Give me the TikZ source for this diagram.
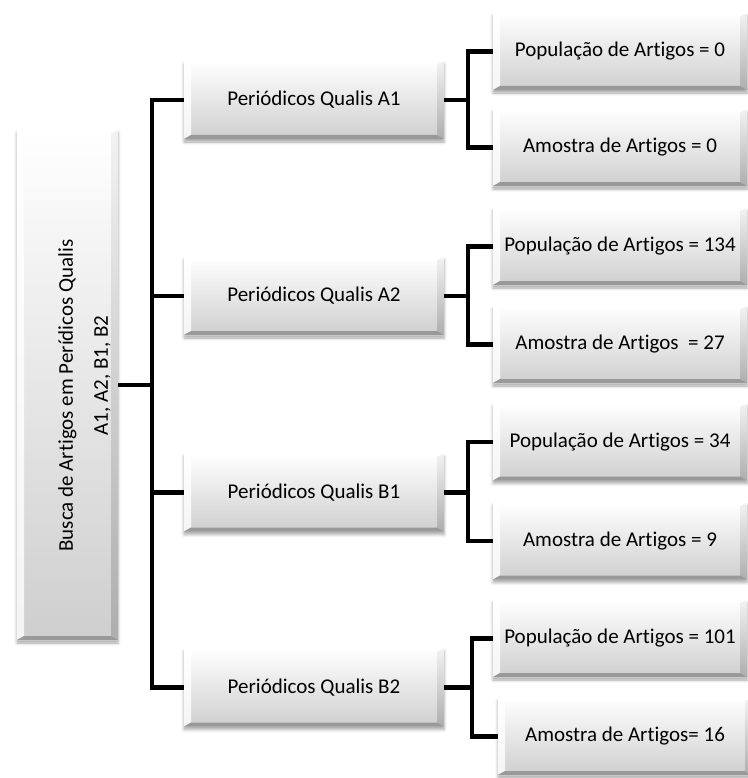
\documentclass[tikz,border=0pt]{standalone}
\usepackage{fontspec}
\setmainfont{Carlito}[Ligatures=NoCommon]
\usetikzlibrary{shadows.blur,calc}
\tikzset{
  bevel/.style={draw=none, top color=white, bottom color=black!19,
    inner sep=0pt, font=\fontsize{21}{25}\selectfont,
    blur shadow={shadow xshift=0pt, shadow yshift=-3pt, shadow blur radius=3pt, shadow opacity=35},
    path picture={
      \path (path picture bounding box.south west) coordinate (pb1)
            (path picture bounding box.north east) coordinate (pb3);
      \path (pb1 |- pb3) coordinate (pb2) (pb3 |- pb1) coordinate (pb4);
      \shade[top color=black!5, bottom color=black!32]
        (pb4) -- (pb3) -- ([shift={(-7pt,-3pt)}]pb3) -- ([shift={(-7pt,4pt)}]pb4) -- cycle;
      \shade[top color=white, bottom color=black!4]
        (pb1) -- (pb2) -- ([shift={(7pt,-3pt)}]pb2) -- ([shift={(7pt,4pt)}]pb1) -- cycle;
      \fill[white]
        (pb2) -- (pb3) -- ([shift={(-7pt,-3pt)}]pb3) -- ([shift={(7pt,-3pt)}]pb2) -- cycle;
      \fill[black!40]
        (pb1) -- (pb4) -- ([shift={(-7pt,4pt)}]pb4) -- ([shift={(7pt,4pt)}]pb1) -- cycle;
    }},
  midbox/.style={bevel, minimum width=260pt, minimum height=78pt},
  leafbox/.style={bevel, minimum width=254pt, minimum height=77pt},
  conn/.style={line width=4.5pt, black},
}
\begin{document}
\begin{tikzpicture}[x=1pt,y=-1pt]
\useasboundingbox (0,0) rectangle (747,778);

% root
\node[bevel, minimum width=101pt, minimum height=510pt] (root) at (67.5,385) {};
\node[rotate=90, align=center, font=\fontsize{21}{35}\selectfont] (roottxt) at (84.5,385.5)
  {Busca de Artigos em Perídicos Qualis\hspace*{20pt}\\\hspace*{20pt}A1, A2, B1, B2};

% middle level
\node[midbox] (A1) at (314,100) {Periódicos Qualis A1};
\node[midbox] (A2) at (314,296) {Periódicos Qualis A2};
\node[midbox] (B1) at (314,492.5) {Periódicos Qualis B1};
\node[midbox] (B2) at (314,687.5) {Periódicos Qualis B2};

% leaves
\node[leafbox] (A1p) at (620,51.5) {População de Artigos = 0};
\node[leafbox] (A1a) at (620,147.5) {Amostra de Artigos = 0};
\node[leafbox] (A2p) at (620,246.5) {População de Artigos = 134};
\node[leafbox] (A2a) at (620,344.5) {Amostra de Artigos~ = 27};
\node[leafbox] (B1p) at (620,442) {População de Artigos = 34};
\node[leafbox] (B1a) at (620,541) {Amostra de Artigos = 9};
\node[leafbox] (B2p) at (620,638.5) {População de Artigos = 101};
\node[leafbox] (B2a) at (625,736.5) {Amostra de Artigos= 16};

% connectors
\coordinate (trunk) at (152,385);
\draw[conn] (root.east) -- (trunk);
\draw[conn] (A1.west) -| (trunk) |- (B2.west);
\draw[conn] (trunk) |- (A2.west);
\draw[conn] (trunk) |- (B1.west);

\coordinate (jA1) at (468,100);
\coordinate (jA2) at (468,296);
\coordinate (jB1) at (468,492.5);
\coordinate (jB2) at (472,687.5);
\draw[conn] (A1.east) -- (jA1);
\draw[conn] (A1p.west) -| (jA1) |- (A1a.west);
\draw[conn] (A2.east) -- (jA2);
\draw[conn] (A2p.west) -| (jA2) |- (A2a.west);
\draw[conn] (B1.east) -- (jB1);
\draw[conn] (B1p.west) -| (jB1) |- (B1a.west);
\draw[conn] (B2.east) -- (jB2);
\draw[conn] (B2p.west) -| (jB2) |- (B2a.west);
\end{tikzpicture}
\end{document}
